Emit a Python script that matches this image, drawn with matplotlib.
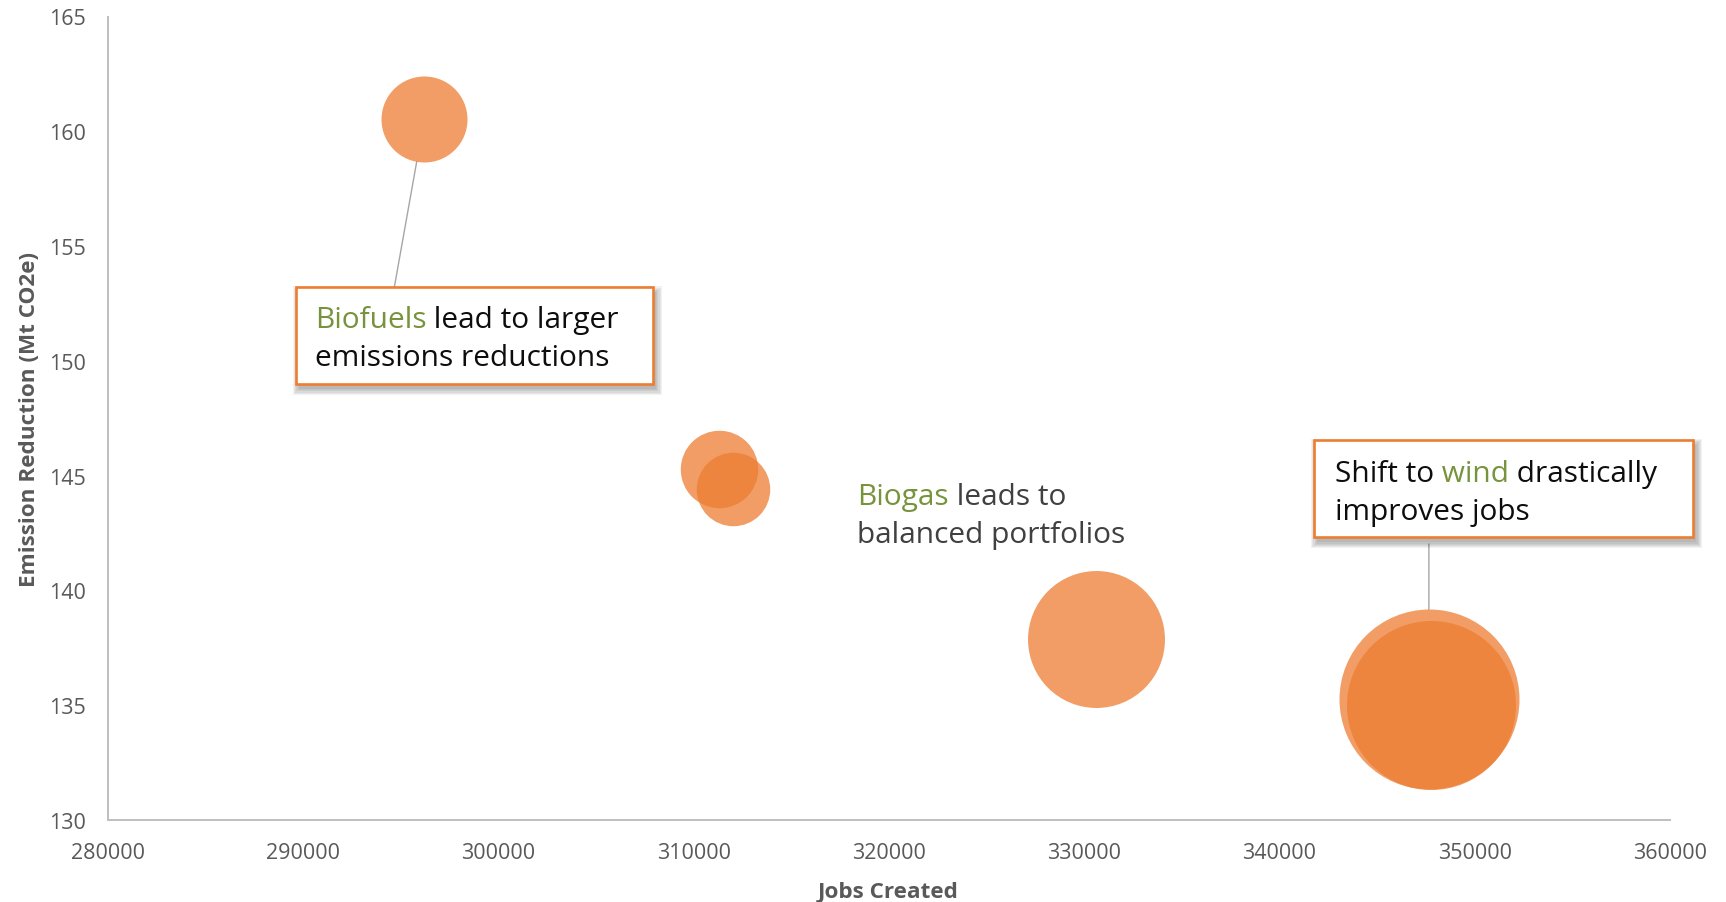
import numpy as np
import matplotlib
matplotlib.use("Agg")
import matplotlib.pyplot as plt
from matplotlib.patches import Rectangle
from matplotlib.text import Annotation

# ---- data -------------------------------------------------------------
jobs_created = [296200, 311300, 312000, 330600, 347650, 347780]
emission_reduction = [160.53, 145.30, 144.41, 137.90, 135.25, 135.02]
bubble_size = [18.5, 15.0, 13.5, 46.9, 81.0, 71.4]

x_ticks = [280000, 290000, 300000, 310000, 320000, 330000, 340000, 350000, 360000]
y_ticks = [130, 135, 140, 145, 150, 155, 160, 165]

x_label = "Jobs Created"
y_label = "Emission Reduction (Mt CO2e)"

# ---- style ------------------------------------------------------------
W, H, DPI = 1726, 903, 100
FONT = "Open Sans"
ORANGE = "#ED7D31"
OLIVE = "#77933C"
AXIS_GRAY = "#BFBFBF"
TICK_GRAY = "#595959"
INK = "#0D0D0D"
GRAY_TEXT = "#404040"
MAX_RADIUS_PX = 90.0
NOTE_SIZE = 21.5

plt.rcParams["font.family"] = [FONT, "DejaVu Sans"]

fig = plt.figure(figsize=(W / DPI, H / DPI), dpi=DPI)
fig.patch.set_facecolor("white")


def fx(x):
    return x / W


def fy(y):
    return 1 - y / H


ax = fig.add_axes([fx(108), fy(821), (1670 - 108) / W, (821 - 17.5) / H])
ax.set_xlim(x_ticks[0], x_ticks[-1])
ax.set_ylim(y_ticks[0], y_ticks[-1])
ax.set_xticks(x_ticks)
ax.set_yticks(y_ticks)
ax.set_xticklabels([str(v) for v in x_ticks])
ax.set_yticklabels([str(v) for v in y_ticks])
for side in ("top", "right"):
    ax.spines[side].set_visible(False)
for side in ("left", "bottom"):
    ax.spines[side].set_color(AXIS_GRAY)
    ax.spines[side].set_linewidth(1.4)
ax.tick_params(axis="both", length=0, labelsize=15.5, labelcolor=TICK_GRAY)
ax.tick_params(axis="y", pad=16)
ax.tick_params(axis="x", pad=16)

# bubble areas scale with bubble_size; convert radius in pixels to points^2
sizes = np.asarray(bubble_size, dtype=float)
radius_px = MAX_RADIUS_PX * np.sqrt(sizes / sizes.max())
s_pts = (2 * radius_px * 72.0 / DPI) ** 2
for xv, yv, sv in zip(jobs_created, emission_reduction, s_pts):
    ax.scatter([xv], [yv], s=sv, color=ORANGE, alpha=0.75, linewidths=0, zorder=3)

# axis titles
fig.text(fx(29.5), fy(420), y_label, rotation=90, ha="center", va="center",
         fontsize=16.2, fontweight="bold", color=TICK_GRAY)
fig.text(fx(888), fy(893), x_label, ha="center", va="center",
         fontsize=16.2, fontweight="bold", color=TICK_GRAY)


def rich_line(x, y, chunks, size=NOTE_SIZE):
    """Draw a line made of differently coloured pieces, left to right."""
    first, color = chunks[0]
    prev = fig.text(fx(x), fy(y), first, color=color, fontsize=size,
                    ha="left", va="baseline", zorder=7)
    for txt, color in chunks[1:]:
        ann = Annotation(txt, xy=(1, 0), xycoords=prev, ha="left", va="bottom",
                         color=color, fontsize=size, annotation_clip=False)
        ann.set_zorder(7)
        fig.add_artist(ann)
        prev = ann
    return prev


def callout_box(x0, y0, x1, y1):
    # soft drop shadow
    for i in range(6):
        grow = i * 1.2
        fig.patches.append(Rectangle((fx(x0 + 3 - grow), fy(y1 + 5 + grow)),
                                     (x1 - x0 + 2 * grow) / W,
                                     (y1 - y0 + 2 * grow) / H,
                                     transform=fig.transFigure,
                                     facecolor="black", edgecolor="none",
                                     alpha=0.05, zorder=4))
    fig.patches.append(Rectangle((fx(x0), fy(y1)), (x1 - x0) / W, (y1 - y0) / H,
                                 transform=fig.transFigure, facecolor="white",
                                 edgecolor=ORANGE, linewidth=1.9, zorder=5))


# Biofuels callout
callout_box(295.7, 288.3, 653, 385)
rich_line(314.7, 328, [("Biofuels", OLIVE), (" lead to larger", INK)])
rich_line(314.7, 366, [("emissions reductions", INK)])
ax.annotate("", xy=(jobs_created[0], emission_reduction[0]), xycoords="data",
            xytext=(394.3, H - 288.3), textcoords="figure pixels",
            arrowprops=dict(arrowstyle="-", color="#A6A6A6", lw=1.0,
                            shrinkA=0, shrinkB=radius_px[0] * 72 / DPI),
            zorder=2)

# Biogas note
rich_line(857, 505, [("Biogas", OLIVE), (" leads to", GRAY_TEXT)])
rich_line(857, 543, [("balanced portfolios", GRAY_TEXT)])

# Wind callout
callout_box(1314, 440.7, 1693.3, 538.3)
rich_line(1335, 482, [("Shift to", INK), (" wind", OLIVE), (" drastically", INK)])
rich_line(1335, 520, [("improves jobs", INK)])
ax.annotate("", xy=(jobs_created[4], emission_reduction[4]), xycoords="data",
            xytext=(jobs_created[4], H - 545), textcoords=("data", "figure pixels"),
            arrowprops=dict(arrowstyle="-", color="#A6A6A6", lw=1.0,
                            shrinkA=0, shrinkB=radius_px[4] * 72 / DPI),
            zorder=2)

fig.savefig("out.png", dpi=DPI, facecolor="white")
